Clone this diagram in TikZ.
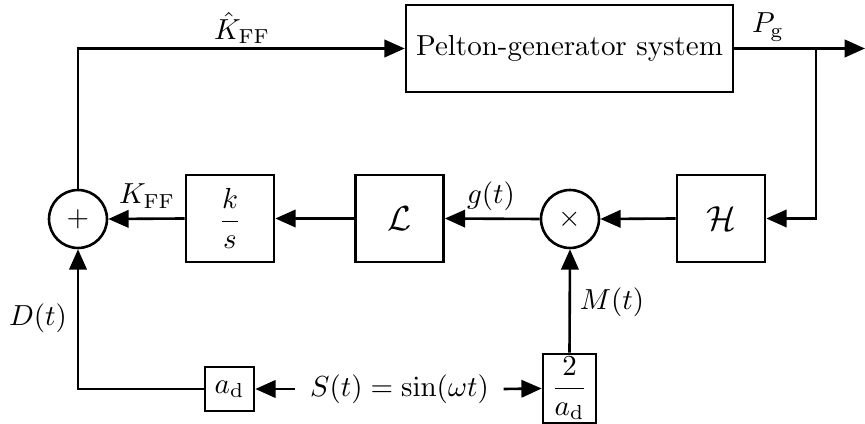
\documentclass[tikz,border=0pt]{standalone}
\usepackage{amsmath}
\usetikzlibrary{arrows.meta}
\begin{document}
\begin{tikzpicture}[x=0.345pt,y=-0.345pt,
  line width=0.9pt,
  blk/.style={draw,rectangle,inner sep=0pt,minimum width=30.4pt,minimum height=30pt},
  sumnode/.style={draw,circle,inner sep=0pt,minimum size=20pt},
  lbl/.style={inner sep=0pt},
  arr/.style={-{Triangle[length=7pt,width=6pt]}}
]
\useasboundingbox (0,0) rectangle (865,424);
% blocks
\node[blk,minimum width=112.8pt] (pel) at (569.5,48.5) {Pelton-generator system};
\node[blk] (ks) at (230,218.5) {$\dfrac{k}{s}$};
\node[blk] (L) at (399.5,218.5) {\large$\mathcal{L}$};
\node[blk] (H) at (721,218.5) {\large$\mathcal{H}$};
\node[sumnode] (sum) at (78,219) {$+$};
\node[sumnode] (mul) at (570,219) {$\times$};
\node[blk,minimum width=16.9pt,minimum height=15.2pt] (ad) at (229.5,389) {$a_{\mathrm{d}}$};
\node[blk,minimum width=18.3pt,minimum height=23.8pt] (tad) at (569.5,388.5) {$\dfrac{2}{a_{\mathrm{d}}}$};
\node[inner sep=0pt] (S) at (399.5,389) {$S(t)=\sin(\omega t)$};
\path (S.west) ++(-4.8pt,0pt) coordinate (Sw);
\path (S.east) ++(4.6pt,0pt) coordinate (Se);
% coordinates
\coordinate (out) at (865,48.5);
\coordinate (br) at (816,48.5);
% labels
\node[lbl] (lKh) at (242,28) {$\hat{K}_{\mathrm{FF}}$};
\node[lbl] (lPg) at (768,27) {$P_{\mathrm{g}}$};
\node[lbl] (lK) at (147,196) {$K_{\mathrm{FF}}$};
\node[lbl] (lg) at (491,196) {$g(t)$};
\node[lbl] (lD) at (38,318) {$D(t)$};
\node[lbl] (lM) at (612,302) {$M(t)$};
% connectors
\draw[arr] (sum.north) |- (pel.west);
\draw[arr] (pel.east) -- (out);
\draw[arr] (br) |- (H.east);
\draw[arr] (H.west) -- (mul.east);
\draw[arr] (mul.west) -- (L.east);
\draw[arr] (L.west) -- (ks.east);
\draw[arr] (ks.west) -- (sum.east);
\draw[arr] (ad.west) -| (sum.south);
\draw[arr] (Sw) -- (ad.east);
\draw[arr] (Se) -- (tad.west);
\draw[arr] (tad.north) -- (mul.south);
\end{tikzpicture}
\end{document}
